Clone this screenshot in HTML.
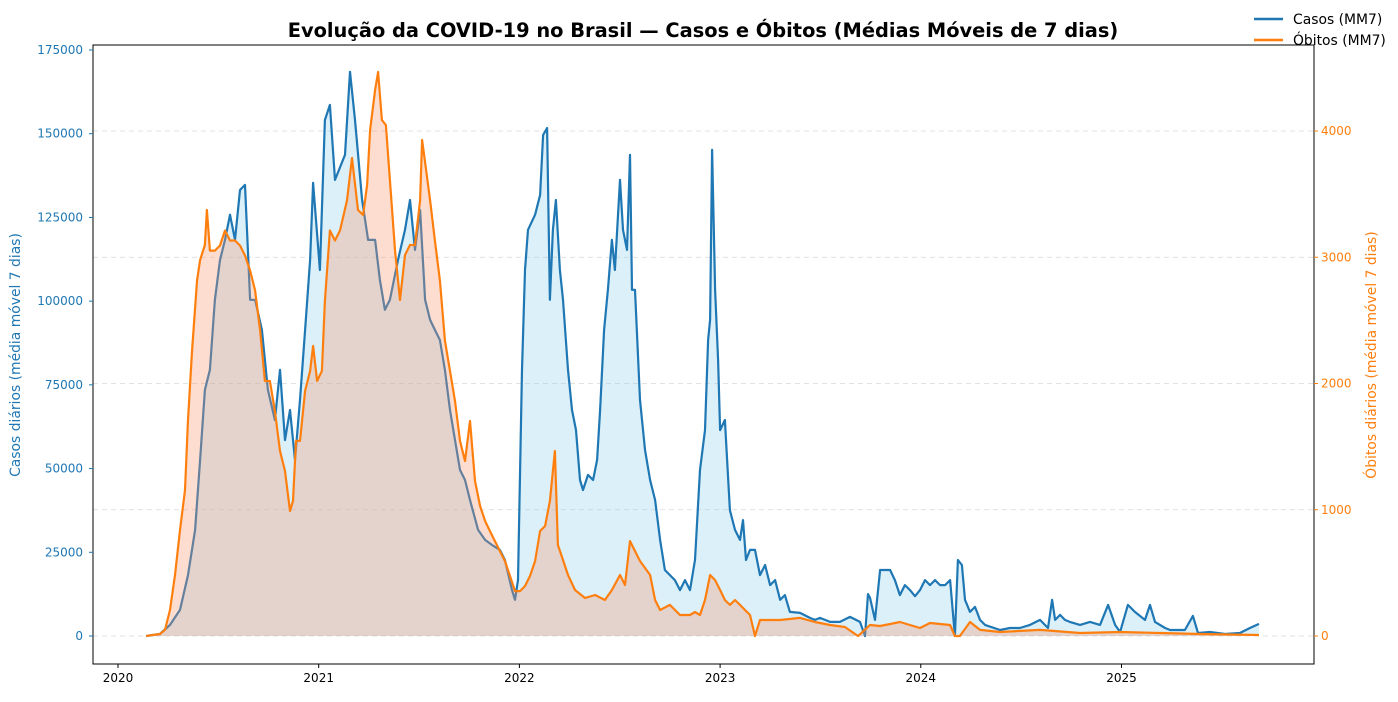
<!DOCTYPE html>
<html><head><meta charset="utf-8"><style>
body{margin:0;background:#fff;font-family:"DejaVu Sans",sans-serif}
svg text{font-family:"DejaVu Sans","Liberation Sans",sans-serif}
</style></head><body>
<svg id="c" width="1398" height="698"></svg>
<script>
const caseDates=[2020.14,2020.209,2020.259,2020.309,2020.349,2020.384,2020.409,2020.433,2020.458,2020.483,2020.508,2020.533,2020.558,2020.583,2020.608,2020.633,2020.658,2020.683,2020.717,2020.747,2020.782,2020.807,2020.832,2020.857,2020.882,2020.907,2020.932,2020.957,2020.972,2021.006,2021.031,2021.056,2021.081,2021.131,2021.156,2021.181,2021.216,2021.246,2021.281,2021.305,2021.330,2021.355,2021.395,2021.430,2021.455,2021.480,2021.505,2021.530,2021.555,2021.579,2021.604,2021.629,2021.654,2021.679,2021.704,2021.729,2021.754,2021.794,2021.829,2021.863,2021.903,2021.928,2021.963,2021.978,2021.993,2022.013,2022.028,2022.043,2022.078,2022.103,2022.118,2022.138,2022.152,2022.167,2022.182,2022.202,2022.217,2022.242,2022.262,2022.282,2022.302,2022.317,2022.342,2022.367,2022.387,2022.402,2022.422,2022.441,2022.461,2022.476,2022.501,2022.516,2022.536,2022.551,2022.561,2022.576,2022.601,2022.626,2022.651,2022.676,2022.701,2022.725,2022.750,2022.775,2022.800,2022.825,2022.850,2022.875,2022.900,2022.925,2022.940,2022.950,2022.960,2022.975,2022.990,2023.000,2023.024,2023.049,2023.074,2023.099,2023.114,2023.129,2023.149,2023.174,2023.199,2023.224,2023.249,2023.274,2023.299,2023.323,2023.348,2023.398,2023.448,2023.473,2023.498,2023.548,2023.597,2023.647,2023.697,2023.722,2023.737,2023.747,2023.772,2023.797,2023.847,2023.871,2023.896,2023.921,2023.946,2023.971,2023.996,2024.021,2024.046,2024.071,2024.096,2024.121,2024.146,2024.170,2024.185,2024.205,2024.220,2024.245,2024.270,2024.295,2024.320,2024.395,2024.444,2024.494,2024.544,2024.594,2024.634,2024.654,2024.669,2024.694,2024.718,2024.743,2024.793,2024.843,2024.893,2024.933,2024.968,2024.993,2025.032,2025.067,2025.117,2025.142,2025.167,2025.217,2025.242,2025.316,2025.356,2025.381,2025.441,2025.516,2025.590,2025.640,2025.685];
const caseValues=[0,600,3300,7800,18200,31700,52600,73500,79500,100400,112300,118300,125800,118300,133200,134700,100400,100400,91400,73500,64500,79500,58500,67500,52600,70500,91400,112300,135300,109300,154100,158600,136200,143700,168500,154100,130200,118300,118300,106300,97400,100400,112300,121300,130200,115300,127200,100400,94400,91400,88400,79500,67500,58500,49600,46600,40600,31700,28700,27200,25700,22700,13700,10800,16700,79500,109300,121300,125800,131700,149600,151700,100400,121300,130200,109300,100400,79500,67500,61500,46600,43600,48100,46600,52600,67500,91400,103400,118300,109300,136200,121300,115300,143700,103400,103400,70500,55600,46600,40600,28700,19700,18200,16700,13700,16700,13700,22700,49600,61500,88400,94400,145200,103400,82400,61500,64500,37600,31700,28700,34600,22700,25700,25700,18200,21200,15200,16700,10800,12200,7200,6900,5400,4800,5400,4200,4200,5700,4200,0,12500,11400,4800,19700,19700,16700,12200,15200,13700,11900,13700,16700,15200,16700,15200,15200,16700,0,22700,21200,10800,7200,8700,4800,3300,1800,2400,2400,3300,4800,2400,10800,4800,6300,4800,4200,3300,4200,3300,9300,3300,1200,9300,7200,4800,9300,4200,2400,1800,1800,6000,900,1200,600,900,2400,3600];
const deathDates=[2020.14,2020.209,2020.234,2020.259,2020.284,2020.309,2020.334,2020.349,2020.369,2020.394,2020.409,2020.433,2020.443,2020.458,2020.483,2020.508,2020.533,2020.558,2020.583,2020.608,2020.633,2020.658,2020.683,2020.708,2020.732,2020.757,2020.782,2020.807,2020.832,2020.857,2020.872,2020.887,2020.907,2020.932,2020.957,2020.972,2020.992,2021.016,2021.031,2021.056,2021.081,2021.106,2021.141,2021.166,2021.196,2021.221,2021.241,2021.256,2021.281,2021.296,2021.315,2021.335,2021.355,2021.380,2021.405,2021.430,2021.455,2021.480,2021.505,2021.515,2021.535,2021.555,2021.579,2021.604,2021.629,2021.654,2021.679,2021.704,2021.729,2021.754,2021.779,2021.804,2021.829,2021.853,2021.878,2021.903,2021.928,2021.953,2021.978,2022.003,2022.028,2022.053,2022.078,2022.103,2022.128,2022.152,2022.177,2022.192,2022.217,2022.242,2022.277,2022.327,2022.377,2022.426,2022.461,2022.501,2022.526,2022.551,2022.601,2022.651,2022.676,2022.701,2022.750,2022.800,2022.850,2022.875,2022.900,2022.925,2022.950,2022.975,2023.000,2023.024,2023.049,2023.074,2023.099,2023.124,2023.149,2023.174,2023.199,2023.299,2023.398,2023.473,2023.548,2023.622,2023.687,2023.747,2023.797,2023.896,2023.996,2024.046,2024.146,2024.170,2024.195,2024.245,2024.295,2024.395,2024.594,2024.793,2024.993,2025.192,2025.391,2025.685];
const deathValues=[0,16,48,206,483,839,1156,1711,2265,2820,2978,3097,3374,3053,3053,3093,3212,3133,3133,3093,3014,2895,2737,2420,2020,2020,1782,1465,1307,990,1069,1545,1545,1941,2099,2297,2020,2099,2653,3212,3133,3212,3450,3786,3374,3335,3572,4007,4324,4467,4087,4047,3612,3057,2661,3018,3097,3097,3450,3929,3691,3450,3133,2816,2341,2099,1861,1545,1386,1703,1228,1030,911,832,752,673,594,475,356,356,396,475,594,832,871,1069,1465,721,602,483,364,301,325,285,364,483,404,752,594,483,285,206,246,166,166,190,166,285,483,443,364,285,246,285,246,206,166,0,127,127,143,111,87,71,0,87,79,111,63,103,87,0,0,111,48,32,48,24,32,24,16,8];
const xTicks=[2020,2021,2022,2023,2024,2025];
const yLeftTicks=[0,25000,50000,75000,100000,125000,150000,175000];
const yRightTicks=[0,1000,2000,3000,4000];

const NS='http://www.w3.org/2000/svg';
const svg=document.getElementById('c');
const L=93,R=1314,T=45,B=664;
const X=d=>118+(d-2020)*200.7;
const YL=v=>636-v*(586/175000);
const YR=v=>636-v*(505/4000);
function el(t,a,p){const e=document.createElementNS(NS,t);for(const k in a)e.setAttribute(k,a[k]);(p||svg).appendChild(e);return e;}
yRightTicks.forEach(v=>{const g=el('line',{x1:L,x2:R,y1:YR(v),y2:YR(v),stroke:'#d8d8d8','stroke-dasharray':'5,4','stroke-width':0.8});

});
function pts(ds,vs,f){return ds.map((d,i)=>X(d).toFixed(1)+','+f(vs[i]).toFixed(1)).join(' ');}
const cp=pts(caseDates,caseValues,YL);
const ca=el('polygon',{points:X(caseDates[0])+','+YL(0)+' '+cp+' '+X(caseDates[caseDates.length-1])+','+YL(0),fill:'rgba(135,206,235,0.3)'});


const cl=el('polyline',{points:cp,fill:'none',stroke:'#1f77b4','stroke-width':2.2,'stroke-linejoin':'round'});


const dp=pts(deathDates,deathValues,YR);
const da=el('polygon',{points:X(deathDates[0])+','+YR(0)+' '+dp+' '+X(deathDates[deathDates.length-1])+','+YR(0),fill:'rgba(250,150,110,0.32)'});


const dl=el('polyline',{points:dp,fill:'none',stroke:'#ff7f0e','stroke-width':2.2,'stroke-linejoin':'round'});


const fr=el('rect',{x:L,y:T,width:R-L,height:B-T,fill:'none',stroke:'#000','stroke-width':1});


xTicks.forEach(t=>{el('line',{x1:X(t),x2:X(t),y1:B,y2:B+4,stroke:'#000'});
const tx=el('text',{x:X(t),y:B+18,'font-size':12,'text-anchor':'middle',fill:'#000'});tx.textContent=t;

});
yLeftTicks.forEach(t=>{el('line',{x1:L-4,x2:L,y1:YL(t),y2:YL(t),stroke:'#1f77b4'});
const tx=el('text',{x:L-10,y:YL(t)+4,'font-size':12,'text-anchor':'end',fill:'#1f77b4'});tx.textContent=t;

});
yRightTicks.forEach(t=>{el('line',{x1:R,x2:R+4,y1:YR(t),y2:YR(t),stroke:'#ff7f0e'});
const tx=el('text',{x:R+7,y:YR(t)+4,'font-size':12,fill:'#ff7f0e'});tx.textContent=t;

});
</script>
<svg width="1398" height="698" style="position:absolute;left:0;top:0;pointer-events:none">
<text x="703" y="37" font-size="19.4" font-weight="bold" text-anchor="middle">Evolução da COVID-19 no Brasil — Casos e Óbitos (Médias Móveis de 7 dias)</text>
<text transform="translate(20,355) rotate(-90)" font-size="13.9" fill="#1f77b4" text-anchor="middle">Casos diários (média móvel 7 dias)</text>
<text transform="translate(1376,355) rotate(-90)" font-size="13.9" fill="#ff7f0e" text-anchor="middle">Óbitos diários (média móvel 7 dias)</text>
<g>
<line x1="1254" x2="1283" y1="19" y2="19" stroke="#1f77b4" stroke-width="2.5"/>
<text x="1293" y="24" font-size="13.9">Casos (MM7)</text>
<line x1="1254" x2="1283" y1="40" y2="40" stroke="#ff7f0e" stroke-width="2.5"/>
<text x="1293" y="45" font-size="13.9">Óbitos (MM7)</text>
</g>
</svg>
</body></html>
